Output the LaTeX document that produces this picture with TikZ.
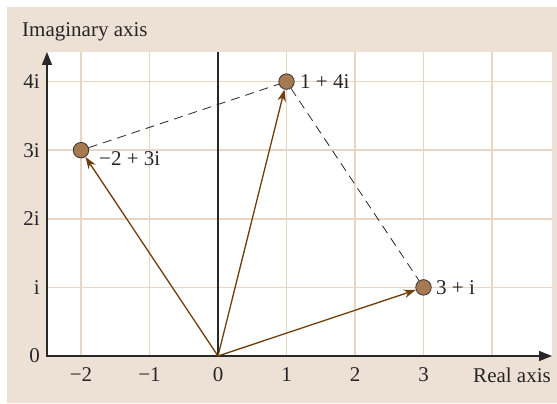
\documentclass[tikz,border=0pt]{standalone}
\usepackage{fontspec}
\setmainfont{Liberation Serif}
\usetikzlibrary{arrows.meta}
\definecolor{panel}{RGB}{237,224,212}
\definecolor{gridc}{RGB}{233,214,194}
\definecolor{vecc}{RGB}{110,62,12}
\definecolor{ptc}{RGB}{166,122,80}
\definecolor{axc}{RGB}{40,40,40}
\begin{document}
\begin{tikzpicture}[x=1pt,y=-1pt,
  lbl/.style={font=\fontsize{21}{25}\selectfont, text=black!85, inner sep=0pt},
  pt/.style={circle, draw=black!80, line width=0.8pt, fill=ptc, minimum size=15.5pt, inner sep=0pt},
  vec/.style={draw=vecc, line width=1.3pt, -{Stealth[length=12pt,width=8.5pt]}},
  dsh/.style={draw=black!85, line width=0.8pt, dash pattern=on 9pt off 6pt},
  gl/.style={draw=gridc, line width=1.8pt},
  ax/.style={draw=axc, line width=1.5pt}]
\useasboundingbox (0,0) rectangle (557,404);
\fill[white] (0,0) rectangle (557,404);
\fill[panel] (7,7) rectangle (557,403);
\fill[white] (47,52) rectangle (552,356);
% grid
\foreach \gx in {81,149.5,286.5,355,423.5,492} \draw[gl] (\gx,52) -- (\gx,356);
\foreach \gy in {287.4,218.8,150.2,81.6} \draw[gl] (47,\gy) -- (552,\gy);
% axes
\coordinate (xs) at (47,356);
\coordinate (xe) at (552,356);
\coordinate (ys) at (47,357);
\coordinate (ye) at (47,52);
\coordinate (O) at (218,356);
\coordinate (Ot) at (218,52);
\draw[ax, -{Triangle[length=13pt,width=10pt]}] (xs) -- (xe);
\draw[ax, -{Triangle[length=13pt,width=10pt]}] (ys) -- (ye);
\draw[draw=axc, line width=1.2pt] (O) -- (Ot);
% points
\node[pt] (p1) at (286.5,81.6) {};
\node[pt] (p2) at (81,150.2) {};
\node[pt] (p3) at (423.5,287.4) {};
\draw[dsh] (p2) -- (p1);
\draw[dsh] (p1) -- (p3);
\draw[vec] (O) -- (p1);
\draw[vec] (O) -- (p2);
\draw[vec] (O) -- (p3);
% point labels
\node[lbl, anchor=west] (l1) at (300,81.6) {1 + 4i};
\node[lbl, anchor=west] (l2) at (99,159) {−2 + 3i};
\node[lbl, anchor=west] (l3) at (436,288) {3 + i};
% titles
\node[lbl, anchor=west] (ti) at (22,32) {Imaginary axis};
\node[lbl, anchor=east] (tr) at (551,375) {Real axis};
% ticks
\node[lbl, anchor=east] (y4) at (40,82) {4i};
\node[lbl, anchor=east] (y3) at (40,150.5) {3i};
\node[lbl, anchor=east] (y2) at (40,219) {2i};
\node[lbl, anchor=east] (y1) at (40,287.5) {i};
\node[lbl, anchor=east] (y0) at (40,356) {0};
\node[lbl] (xm2) at (81,375) {−2};
\node[lbl] (xm1) at (149.5,375) {−1};
\node[lbl] (x0) at (218,375) {0};
\node[lbl] (x1) at (286.5,375) {1};
\node[lbl] (x2) at (355,375) {2};
\node[lbl] (x3) at (423.5,375) {3};
\end{tikzpicture}
\end{document}
